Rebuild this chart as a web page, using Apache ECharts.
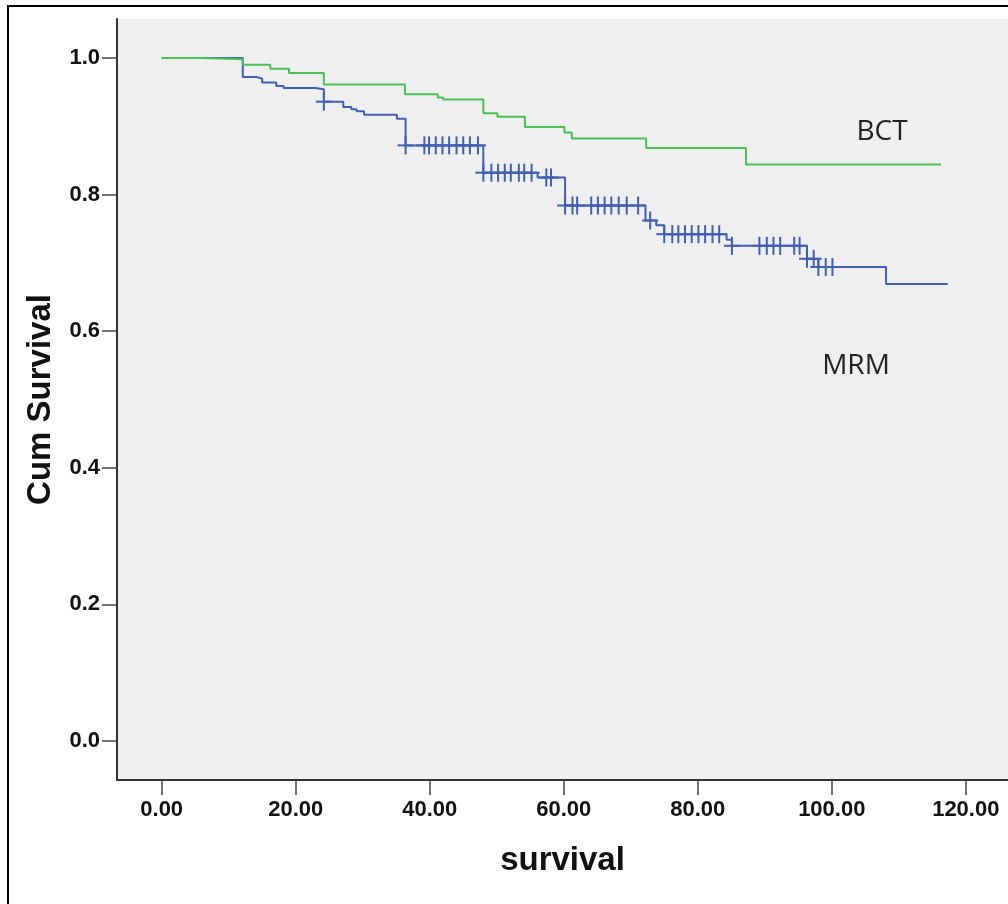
<!DOCTYPE html>
<html>
<head>
<meta charset="utf-8">
<script src="https://cdn.jsdelivr.net/npm/echarts@6/dist/echarts.min.js"></script>
<style>
  html, body { margin:0; padding:0; background:#ffffff; }
  #chart { width:1008px; height:904px; }
</style>
</head>
<body>
<div id="chart"></div>
<script>
// ---- Data ----
var bctTime = [0, 6.1, 12.1, 16.2, 19.0, 24.2, 36.3, 41.2, 42.0, 48.0, 50.1, 54.2, 60.1, 61.2, 72.3, 87.2, 116.3];
var bctSurv = [1.0, 0.998, 0.990, 0.984, 0.978, 0.961, 0.947, 0.942, 0.939, 0.919, 0.914, 0.899, 0.891, 0.882, 0.868, 0.844, 0.844];

var mrmTime = [0, 12.1, 14.1, 15.0, 17.1, 18.2, 22.9, 24.2, 27.1, 28.3, 29.1, 30.2, 35.1, 36.4, 48.0, 56.1, 60.2, 72.2, 73.8, 75.0, 84.3, 85.1, 96.3, 98.0, 108.1, 117.3];
var mrmSurv = [1.0, 0.972, 0.970, 0.964, 0.959, 0.956, 0.954, 0.936, 0.928, 0.925, 0.922, 0.917, 0.911, 0.872, 0.832, 0.825, 0.784, 0.762, 0.755, 0.742, 0.734, 0.725, 0.706, 0.694, 0.669, 0.669];

var mrmCensorTime = [24.2, 36.4, 39.2, 39.9, 40.9, 41.9, 42.9, 44.0, 45.0, 46.0, 47.2,
  48.0, 49.2, 50.2, 51.2, 52.1, 53.3, 54.1, 55.2, 57.4, 58.1,
  60.2, 61.3, 62.0, 64.1, 65.1, 66.1, 67.1, 68.2, 69.4, 71.1, 72.9,
  75.0, 76.2, 77.1, 78.1, 79.1, 80.1, 81.1, 82.2, 83.2,
  85.1, 89.2, 90.3, 91.3, 92.3, 94.4, 95.2, 96.3, 97.3, 98.0, 99.1, 100.1];
var mrmCensorSurv = [0.936, 0.872, 0.872, 0.872, 0.872, 0.872, 0.872, 0.872, 0.872, 0.872, 0.872,
  0.832, 0.832, 0.832, 0.832, 0.832, 0.832, 0.832, 0.832, 0.825, 0.825,
  0.784, 0.784, 0.784, 0.784, 0.784, 0.784, 0.784, 0.784, 0.784, 0.784, 0.762,
  0.742, 0.742, 0.742, 0.742, 0.742, 0.742, 0.742, 0.742, 0.742,
  0.725, 0.725, 0.725, 0.725, 0.725, 0.725, 0.725, 0.706, 0.706, 0.694, 0.694, 0.694];

var xTicks = [0, 20, 40, 60, 80, 100, 120];
var yTicks = [0, 0.2, 0.4, 0.6, 0.8, 1.0];
var groupLabels = ['BCT', 'MRM'];
var xAxisTitle = 'survival';
var yAxisTitle = 'Cum Survival';

// ---- Build ----
var GREEN = '#47c152';
var BLUE = '#3f5fb8';
function zip(a, b) { var r = []; for (var i = 0; i < a.length; i++) r.push([a[i], b[i]]); return r; }

var chart = echarts.init(document.getElementById('chart'), null, { renderer: 'canvas' });
var labelFont = { color: '#111', fontWeight: 'bold', fontFamily: 'Liberation Sans, Arial, sans-serif', fontSize: 22 };

var option = {
  animation: false,
  backgroundColor: '#ffffff',
  grid: { show: true, backgroundColor: '#efefef', borderWidth: 0, left: 117, top: 19, right: 0, bottom: 124, containLabel: false },
  xAxis: {
    type: 'value', min: -6.67, max: 126.3,
    name: xAxisTitle, nameLocation: 'middle', nameGap: 81,
    nameTextStyle: { color: '#111', fontWeight: 'bold', fontFamily: 'Liberation Sans, Arial, sans-serif', fontSize: 33, verticalAlign: 'middle' },
    axisLine: { show: true, onZero: false, lineStyle: { color: '#333', width: 2 } },
    axisTick: { show: true, length: 15, customValues: xTicks, lineStyle: { color: '#444', width: 1.5 } },
    axisLabel: Object.assign({ customValues: xTicks, margin: 19, formatter: function (v) { return v.toFixed(2); } }, labelFont),
    splitLine: { show: false }
  },
  yAxis: {
    type: 'value', min: -0.057, max: 1.057,
    name: yAxisTitle, nameLocation: 'middle', nameGap: 76, nameRotate: 90,
    nameTextStyle: { color: '#111', fontWeight: 'bold', fontFamily: 'Liberation Sans, Arial, sans-serif', fontSize: 33, verticalAlign: 'middle' },
    axisLine: { show: true, onZero: false, lineStyle: { color: '#333', width: 2 } },
    axisTick: { show: true, length: 15, customValues: yTicks, lineStyle: { color: '#444', width: 1.5 } },
    axisLabel: Object.assign({ customValues: yTicks, margin: 17, formatter: function (v) { return v.toFixed(1); } }, labelFont),
    splitLine: { show: false }
  },
  series: [
    {
      name: groupLabels[1], type: 'line', step: 'end', showSymbol: false, silent: true, z: 2,
      data: zip(mrmTime, mrmSurv),
      lineStyle: { color: BLUE, width: 2 }
    },
    {
      name: groupLabels[1] + ' censored', type: 'custom', silent: true, z: 2,
      data: zip(mrmCensorTime, mrmCensorSurv),
      renderItem: function (params, api) {
        var p = api.coord([api.value(0), api.value(1)]);
        return {
          type: 'group',
          children: [
            { type: 'line', shape: { x1: p[0], y1: p[1] - 9, x2: p[0], y2: p[1] + 9 }, style: { stroke: BLUE, lineWidth: 2 } },
            { type: 'line', shape: { x1: p[0] - 8, y1: p[1], x2: p[0] + 8, y2: p[1] }, style: { stroke: BLUE, lineWidth: 2 } }
          ]
        };
      }
    },
    {
      name: groupLabels[0], type: 'line', step: 'end', showSymbol: false, silent: true, z: 3,
      data: zip(bctTime, bctSurv),
      lineStyle: { color: GREEN, width: 2 }
    }
  ],
  graphic: [
    { type: 'rect', z: 100, silent: true, shape: { x: 8, y: 6, width: 1010, height: 920 }, style: { fill: 'none', stroke: '#000', lineWidth: 2 } },
    { type: 'text', z: 100, x: 882, y: 132, style: { text: groupLabels[0], fill: '#222', font: '28px "Open Sans", sans-serif', textAlign: 'center', textVerticalAlign: 'middle' } },
    { type: 'text', z: 100, x: 856, y: 366, style: { text: groupLabels[1], fill: '#222', font: '28px "Open Sans", sans-serif', textAlign: 'center', textVerticalAlign: 'middle' } }
  ]
};
chart.setOption(option);
</script>
</body>
</html>
